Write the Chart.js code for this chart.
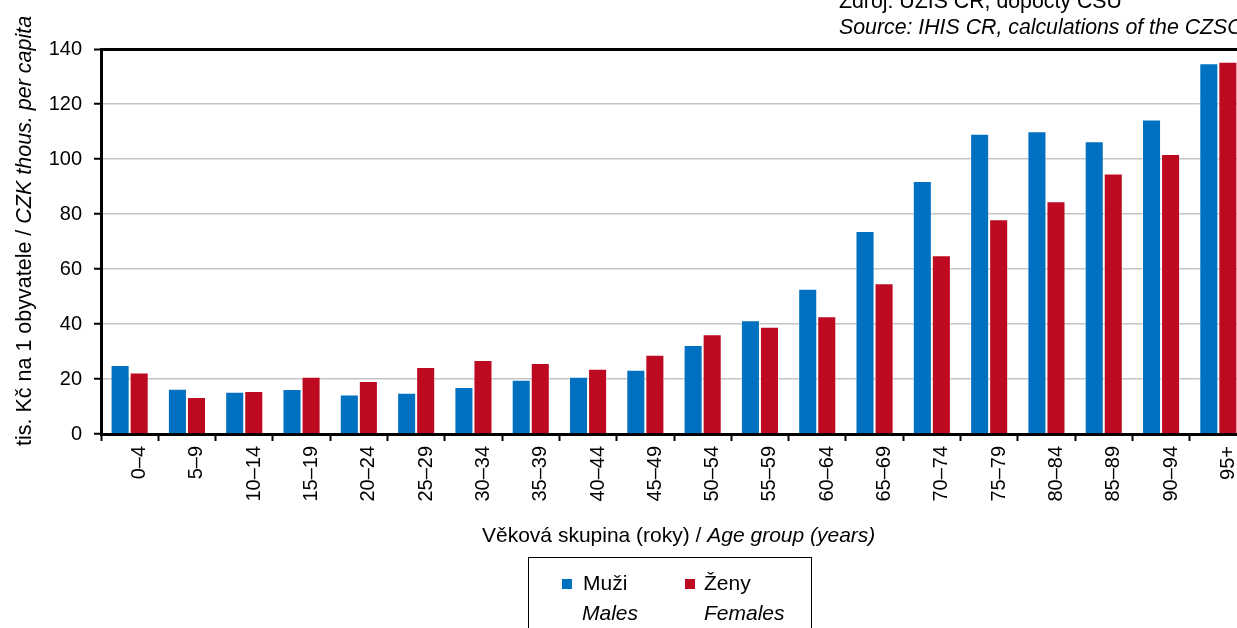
<!DOCTYPE html>
<html lang="cs">
<head>
<meta charset="utf-8">
<script src="https://cdn.jsdelivr.net/npm/chart.js@4"></script>
<style>
  html, body { margin: 0; padding: 0; overflow: hidden; background: #fff; }
  body { width: 1237px; height: 628px; position: relative; font-family: "Liberation Sans", Arial, sans-serif; color: #000; }
  #wrap { position: absolute; left: 0; top: 0; width: 1250px; height: 628px; }
  .txt { position: absolute; white-space: nowrap; font-size: 21px; line-height: 24px; }
  .it { font-style: italic; }
  #ytitle { left: 13px; top: 446px; transform-origin: 0 0; transform: rotate(-90deg); font-size: 21.5px; line-height: 22px; }
  #source { left: 839px; top: -12px; line-height: 26px; font-size: 21.3px; }
  #legend { position: absolute; left: 528px; top: 557px; width: 284px; height: 100px; border: 1px solid #000; box-sizing: border-box; }
  .sw { position: absolute; width: 10px; height: 10px; }
</style>
</head>
<body>
<div id="wrap"><canvas id="chart" width="1250" height="628"></canvas></div>

<div class="txt" id="ytitle">tis. Kč na 1 obyvatele / <span class="it">CZK thous. per capita</span></div>
<div class="txt" style="left:482px; top:523px;">Věková skupina (roky) / <span class="it">Age group (years)</span></div>
<div class="txt" id="source">Zdroj: ÚZIS ČR, dopočty ČSÚ<br><span class="it">Source: IHIS CR, calculations of the CZSO</span></div>

<div id="legend"></div>
<div class="sw" style="left:562px; top:579px; background:#0070c0;"></div>
<div class="txt" style="left:583px; top:571px;">Muži</div>
<div class="txt it" style="left:582px; top:601px;">Males</div>
<div class="sw" style="left:685px; top:579px; background:#bd0a20;"></div>
<div class="txt" style="left:704px; top:571px;">Ženy</div>
<div class="txt it" style="left:704px; top:601px;">Females</div>

<script>
// Age groups and spending per capita (thous. CZK)
const ageGroups = ['0–4', '5–9', '10–14', '15–19', '20–24', '25–29', '30–34', '35–39', '40–44', '45–49',
  '50–54', '55–59', '60–64', '65–69', '70–74', '75–79', '80–84', '85–89', '90–94', '95+'];
const males = [25.1, 16.5, 15.4, 16.4, 14.4, 15.0, 17.1, 19.7, 20.8, 23.4,
  32.4, 41.4, 52.8, 73.8, 92.0, 109.2, 110.1, 106.5, 114.4, 134.8];
const females = [22.4, 13.5, 15.6, 20.8, 19.3, 24.4, 26.9, 25.8, 23.7, 28.8,
  36.3, 39.0, 42.8, 54.8, 65.0, 78.1, 84.6, 94.7, 101.8, 135.4];
const yTicks = [0, 20, 40, 60, 80, 100, 120, 140];

const blue = '#0070c0';
const red = '#bd0a20';
const font = { family: '"Liberation Sans", Arial, sans-serif', size: 20 };

new Chart(document.getElementById('chart'), {
  type: 'bar',
  data: {
    labels: ageGroups,
    datasets: [
      { label: 'Muži', data: males, backgroundColor: blue, borderColor: 'rgba(255,255,255,0.45)', borderWidth: 1 },
      { label: 'Ženy', data: females, backgroundColor: red, borderColor: 'rgba(255,255,255,0.45)', borderWidth: 1 }
    ]
  },
  options: {
    responsive: false,
    animation: false,
    devicePixelRatio: 1,
    datasets: { bar: { categoryPercentage: 0.665, barPercentage: 1.0 } },
    layout: { padding: { left: 0, top: 49, right: 3, bottom: 0 } },
    plugins: { legend: { display: false }, tooltip: { enabled: false } },
    scales: {
      x: {
        grid: { drawOnChartArea: false, tickLength: 7, tickColor: '#000', tickWidth: 2 },
        border: { color: '#000', width: 3 },
        ticks: { color: '#000', font: font, minRotation: 90, maxRotation: 90, padding: 5, labelOffset: 10, autoSkip: false },
        afterFit: s => { s.height = 194; }
      },
      y: {
        min: 0,
        max: 140,
        afterBuildTicks: s => { s.ticks = yTicks.map(v => ({ value: v })); },
        grid: {
          color: c => c.tick && c.tick.value === 140 ? '#000' : '#c4c4c4',
          lineWidth: c => c.tick && c.tick.value === 140 ? 3 : 1.5,
          tickColor: '#000', tickLength: 7, tickWidth: 2
        },
        border: { color: '#000', width: 3 },
        ticks: { color: '#000', font: font, padding: 12 },
        afterFit: s => { s.width = 101; }
      }
    }
  }
});
</script>
</body>
</html>
